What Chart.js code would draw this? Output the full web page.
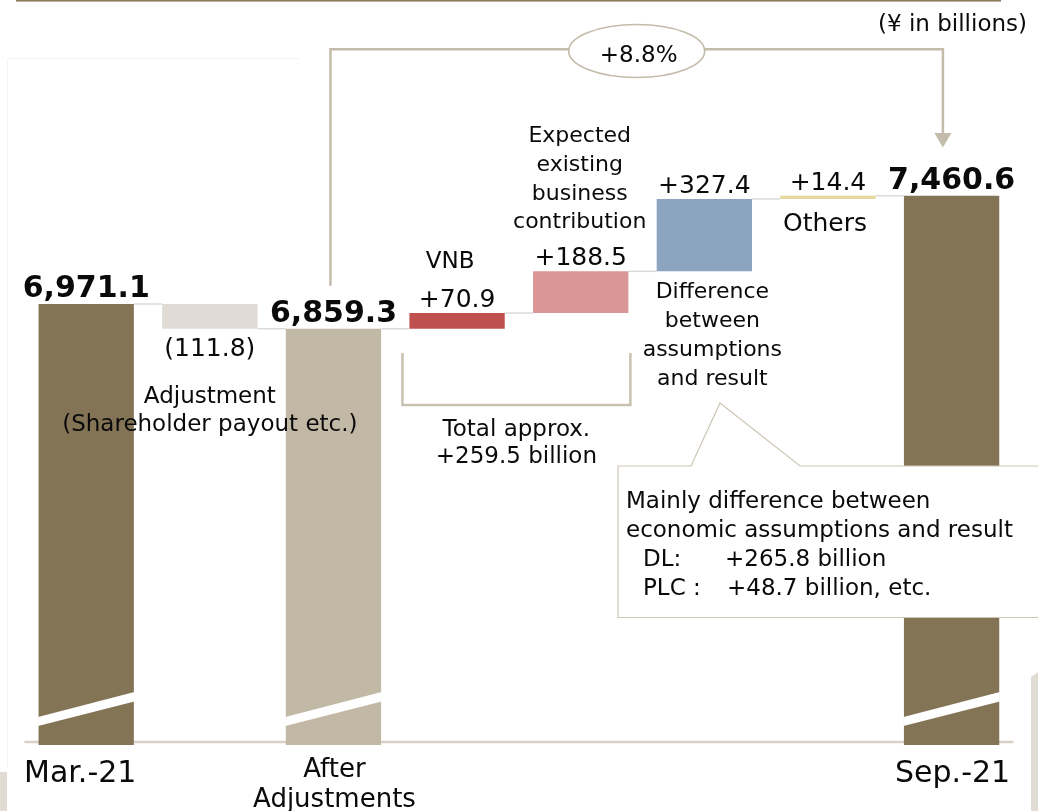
<!DOCTYPE html>
<html>
<head>
<meta charset="utf-8">
<script src="https://cdn.jsdelivr.net/npm/chart.js@4"></script>
<style>
  html, body { margin: 0; padding: 0; background: #fff; }
  #wrap { position: relative; width: 1038px; height: 811px; }
</style>
</head>
<body>
<div id="wrap"><canvas id="bridge"></canvas></div>
<script>
// EV bridge, ¥ in billions
const nameLines = [
  ['Mar.-21'],
  ['Adjustment', '(Shareholder payout etc.)'],
  ['After', 'Adjustments'],
  ['VNB'],
  ['Expected', 'existing', 'business', 'contribution'],
  ['Difference', 'between', 'assumptions', 'and result'],
  ['Others'],
  ['Sep.-21']
];
const categories = nameLines.map(l => l.join(' '));
const kinds = ['total', 'delta', 'total', 'delta', 'delta', 'delta', 'delta', 'total'];
const values = [6971.1, -111.8, 6859.3, 70.9, 188.5, 327.4, 14.4, 7460.6];
const valueLabels = ['6,971.1', '(111.8)', '6,859.3', '+70.9', '+188.5', '+327.4', '+14.4', '7,460.6'];
const barColors = ['#837456', '#e0dbd4', '#c1b9a6', '#c0504d', '#d99694', '#8da4c0', '#e7d79c', '#837456'];
const growthLabel = '+8.8%';
const unitLabel = '(¥ in billions)';
const bracketLines = ['Total approx.', '+259.5 billion'];
const noteLines = ['Mainly difference between', 'economic assumptions and result'];
const noteRows = [['DL:', '+265.8 billion'], ['PLC :', '+48.7 billion, etc.']];

// broken axis: totals start at the bottom of the visible range
const yMin = 4977.4, yMax = 8345.4;

let running = 0;
const levels = [];
const ranges = values.map((v, i) => {
  if (kinds[i] === 'total') {
    running = v;
    levels.push(v);
    return [yMin, v];
  }
  const start = running;
  running += v;
  levels.push(running);
  return [Math.min(start, running), Math.max(start, running)];
});

const FONT = '"DejaVu Sans", Verdana, sans-serif';
const LINE = '#c4bcaa';

function txt(ctx, str, x, y, size, bold, align) {
  ctx.font = (bold ? 'bold ' : '') + size + 'px ' + FONT;
  ctx.textAlign = align || 'center';
  ctx.textBaseline = 'alphabetic';
  ctx.fillStyle = '#0a0a0a';
  ctx.fillText(str, x, y);
}

const bridgeDecor = {
  id: 'bridgeDecor',
  beforeDatasetsDraw(chart) {
    const { ctx, chartArea, scales: { y } } = chart;
    const bars = chart.getDatasetMeta(0).data;
    ctx.save();
    // slide frame bits
    ctx.fillStyle = '#8c7d5f';
    ctx.fillRect(16, 0, 985, 1.6);
    ctx.strokeStyle = '#f4f4f4';
    ctx.lineWidth = 1;
    ctx.beginPath();
    ctx.moveTo(7.5, 767); ctx.lineTo(7.5, 58.5); ctx.lineTo(300, 58.5);
    ctx.stroke();
    ctx.fillStyle = '#e0dbd3';
    ctx.fillRect(0, 772, 7, 39);
    ctx.beginPath();
    ctx.moveTo(1031, 677); ctx.lineTo(1038, 672); ctx.lineTo(1038, 811); ctx.lineTo(1031, 811);
    ctx.closePath(); ctx.fill();

    // base line
    ctx.strokeStyle = '#d8d1c5';
    ctx.lineWidth = 2.5;
    ctx.beginPath();
    ctx.moveTo(chartArea.left, chartArea.bottom - 3);
    ctx.lineTo(chartArea.right, chartArea.bottom - 3);
    ctx.stroke();

    // connectors between bars
    ctx.strokeStyle = '#dadada';
    ctx.lineWidth = 1.5;
    for (let i = 0; i < bars.length - 1; i++) {
      const yy = y.getPixelForValue(levels[i]);
      ctx.beginPath();
      ctx.moveTo(bars[i].x + bars[i].width / 2, yy);
      ctx.lineTo(bars[i + 1].x - bars[i + 1].width / 2, yy);
      ctx.stroke();
    }
    ctx.restore();
  },
  afterDatasetsDraw(chart) {
    const { ctx, chartArea, scales: { y } } = chart;
    const bars = chart.getDatasetMeta(0).data;
    const bottom = chartArea.bottom;
    ctx.save();

    // axis break stripes
    ctx.fillStyle = '#fff';
    bars.forEach((b, i) => {
      if (kinds[i] !== 'total') return;
      const l = b.x - b.width / 2 - 0.5, r = b.x + b.width / 2 + 0.5;
      ctx.beginPath();
      ctx.moveTo(l, bottom - 28);
      ctx.lineTo(r, bottom - 53);
      ctx.lineTo(r, bottom - 43.5);
      ctx.lineTo(l, bottom - 19);
      ctx.closePath();
      ctx.fill();
    });

    // growth arrow from after-adjustments to Sep.-21
    const ax1 = bars[2].x - 3, ax2 = bars[7].x - 8.7, ay = 49.3;
    ctx.strokeStyle = LINE;
    ctx.lineWidth = 2.5;
    ctx.beginPath();
    ctx.moveTo(ax1, y.getPixelForValue(levels[2]) - 43);
    ctx.lineTo(ax1, ay);
    ctx.lineTo(ax2, ay);
    ctx.lineTo(ax2, 136);
    ctx.stroke();
    ctx.fillStyle = LINE;
    ctx.beginPath();
    ctx.moveTo(ax2 - 8.5, 133);
    ctx.lineTo(ax2 + 8.5, 133);
    ctx.lineTo(ax2, 147.5);
    ctx.closePath();
    ctx.fill();

    const ex = (ax1 + ax2) / 2;
    ctx.beginPath();
    ctx.ellipse(ex, 51, 68, 26.5, 0, 0, Math.PI * 2);
    ctx.fillStyle = '#fff';
    ctx.fill();
    ctx.lineWidth = 1.6;
    ctx.stroke();
    txt(ctx, growthLabel, ex + 2, 61.5, 23);
    txt(ctx, unitLabel, 1027, 31, 23, false, 'right');

    // bracket under VNB + expected contribution
    const bl = bars[3].x - bars[3].width / 2 - 7;
    const br = bars[4].x + bars[4].width / 2 + 2;
    ctx.strokeStyle = '#c9c1b1';
    ctx.lineWidth = 2.5;
    ctx.beginPath();
    ctx.moveTo(bl, 353); ctx.lineTo(bl, 405); ctx.lineTo(br, 405); ctx.lineTo(br, 353);
    ctx.stroke();
    txt(ctx, bracketLines[0], (bl + br) / 2, 436, 23);
    txt(ctx, bracketLines[1], (bl + br) / 2, 463, 23);

    // callout box
    ctx.beginPath();
    ctx.moveTo(618, 466);
    ctx.lineTo(691, 466);
    ctx.lineTo(720, 403);
    ctx.lineTo(800, 466);
    ctx.lineTo(1045, 466);
    ctx.lineTo(1045, 617.5);
    ctx.lineTo(618, 617.5);
    ctx.closePath();
    ctx.fillStyle = '#fff';
    ctx.fill();
    ctx.strokeStyle = '#cdc6b6';
    ctx.lineWidth = 1.2;
    ctx.stroke();
    txt(ctx, noteLines[0], 626, 508, 23, false, 'left');
    txt(ctx, noteLines[1], 626, 537, 23, false, 'left');
    txt(ctx, noteRows[0][0], 643, 566, 23, false, 'left');
    txt(ctx, noteRows[0][1], 725, 566, 23, false, 'left');
    txt(ctx, noteRows[1][0], 643, 595, 23, false, 'left');
    txt(ctx, noteRows[1][1], 727, 595, 23, false, 'left');

    // value and name labels
    bars.forEach((b, i) => {
      const top = y.getPixelForValue(ranges[i][1]);
      const bot = y.getPixelForValue(ranges[i][0]);
      const names = nameLines[i];
      if (kinds[i] === 'total') {
        txt(ctx, valueLabels[i], b.x, top - 7, 30, true);
      } else if (values[i] < 0) {
        txt(ctx, valueLabels[i], b.x, bot + 27, 25);
      } else {
        txt(ctx, valueLabels[i], b.x, top - 6, 25);
      }
      if (i === 0) txt(ctx, names[0], b.x - 6, bottom + 37, 30);
      if (i === 7) txt(ctx, names[0], b.x + 1, bottom + 37, 30);
      if (i === 2) names.forEach((s, k) => txt(ctx, s, b.x + 1, bottom + 32 + k * 30, 26));
      if (i === 1) names.forEach((s, k) => txt(ctx, s, b.x, bot + 74 + k * 28, 23));
      if (i === 3) txt(ctx, names[0], b.x - 7, top - 45, 23);
      if (i === 4) names.forEach((s, k) => txt(ctx, s, b.x - 1, top - 43 - (names.length - 1 - k) * 28.7, 22));
      if (i === 5) names.forEach((s, k) => txt(ctx, s, b.x + 8, bot + 27 + k * 29, 22));
      if (i === 6) txt(ctx, names[0], b.x - 3, bot + 32, 25);
    });
    ctx.restore();
  }
};

new Chart(document.getElementById('bridge'), {
  type: 'bar',
  data: {
    labels: categories,
    datasets: [{
      data: ranges,
      backgroundColor: barColors,
      borderWidth: 0,
      barPercentage: 1,
      categoryPercentage: 0.771
    }]
  },
  options: {
    responsive: true,
    maintainAspectRatio: false,
    devicePixelRatio: 1,
    animation: false,
    layout: { padding: { left: 24.4, right: 24.6, top: 0, bottom: 66 } },
    plugins: { legend: { display: false }, tooltip: { enabled: false } },
    scales: {
      x: { display: false },
      y: { display: false, min: yMin, max: yMax }
    }
  },
  plugins: [bridgeDecor]
});
</script>
</body>
</html>
